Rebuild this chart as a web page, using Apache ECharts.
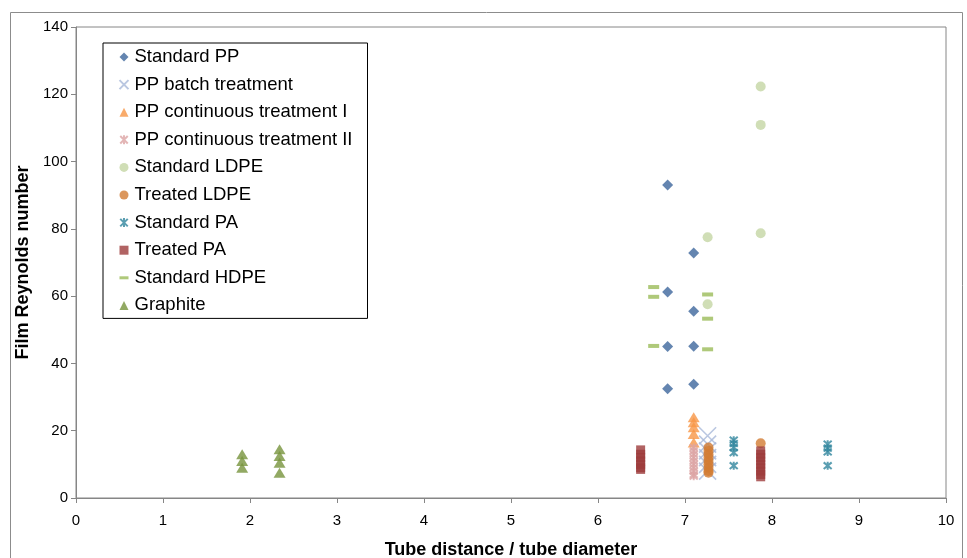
<!DOCTYPE html>
<html>
<head>
<meta charset="utf-8">
<script src="https://cdn.jsdelivr.net/npm/echarts@6/dist/echarts.min.js"></script>
<style>
  html, body { margin: 0; padding: 0; background: #fff; }
  #chart { width: 967px; height: 558px; }
</style>
</head>
<body>
<div id="chart"></div>
<script>
// Film Reynolds number against tube pitch ratio, one list of [x, y] per material
const standardPP = [[6.8, 93], [6.8, 61.2], [6.8, 45], [6.8, 32.5],
                    [7.1, 72.8], [7.1, 55.5], [7.1, 45.1], [7.1, 33.8]];
const ppBatch = [[7.26, 18.5], [7.26, 16], [7.26, 14], [7.26, 12], [7.26, 10], [7.26, 8]];
const ppContinuousI = [[7.1, 24], [7.1, 22.5], [7.1, 21], [7.1, 19], [7.1, 16.5]];
const ppContinuousII = [[7.1, 15], [7.1, 14], [7.1, 13], [7.1, 12], [7.1, 11],
                        [7.1, 10], [7.1, 9], [7.1, 8], [7.1, 7], [7.1, 6.5]];
const standardLDPE = [[7.26, 77.5], [7.26, 57.6], [7.87, 122.3], [7.87, 110.9], [7.87, 78.7]];
const treatedLDPE = [[7.27, 15], [7.27, 14], [7.27, 13], [7.27, 12], [7.27, 11],
                     [7.27, 10], [7.27, 9], [7.27, 8], [7.27, 7.5], [7.87, 16.3]];
const standardPA = [[7.56, 17.2], [7.56, 16.2], [7.56, 15], [7.56, 13.5], [7.56, 9.6],
                    [8.64, 16], [8.64, 14.8], [8.64, 13.7], [8.64, 9.6]];
const treatedPA = [[6.49, 14.3], [6.49, 13], [6.49, 12], [6.49, 11], [6.49, 10], [6.49, 9], [6.49, 8.5],
                   [7.87, 14], [7.87, 13], [7.87, 12], [7.87, 11], [7.87, 10], [7.87, 9],
                   [7.87, 8], [7.87, 7], [7.87, 6.3]];
const standardHDPE = [[6.64, 62.7], [6.64, 59.8], [6.64, 45.2], [7.26, 60.5], [7.26, 53.3], [7.26, 44.2]];
const graphite = [[1.91, 13], [1.91, 11], [1.91, 9],
                  [2.34, 14.5], [2.34, 12.5], [2.34, 10.5], [2.34, 7.5]];

const seriesNames = ['Standard PP', 'PP batch treatment', 'PP continuous treatment I',
  'PP continuous treatment II', 'Standard LDPE', 'Treated LDPE', 'Standard PA',
  'Treated PA', 'Standard HDPE', 'Graphite'];
const seriesData = [standardPP, ppBatch, ppContinuousI, ppContinuousII, standardLDPE,
  treatedLDPE, standardPA, treatedPA, standardHDPE, graphite];

const xTicks = { min: 0, max: 10, interval: 1 };
const yTicks = { min: 0, max: 140, interval: 20 };

const crossPath = 'path://M0,0L10,10M10,0L0,10';
const starPath = 'path://M0,0L10,10M10,0L0,10M5,-1L5,11';
const dashPath = 'path://M0,0h12v4h-12z';

const markerStyles = [
  { symbol: 'diamond', symbolSize: 11, itemStyle: { color: '#3D679C' } },
  { symbol: crossPath, symbolSize: 17, itemStyle: { color: 'transparent', borderColor: '#A9B9D9', borderWidth: 1.6 } },
  { symbol: 'triangle', symbolSize: [12, 10], itemStyle: { color: '#F79646' } },
  { symbol: starPath, symbolSize: 8, itemStyle: { color: 'transparent', borderColor: '#DCA4A4', borderWidth: 2 } },
  { symbol: 'circle', symbolSize: 10, itemStyle: { color: '#C4D6A4' } },
  { symbol: 'circle', symbolSize: 10, itemStyle: { color: '#D27C33' } },
  { symbol: starPath, symbolSize: 8, itemStyle: { color: 'transparent', borderColor: '#31869E', borderWidth: 2 } },
  { symbol: 'rect', symbolSize: 9, itemStyle: { color: '#9E3C3C' } },
  { symbol: dashPath, symbolSize: [11, 4], itemStyle: { color: '#9BBB59' } },
  { symbol: 'triangle', symbolSize: [12, 10], itemStyle: { color: '#77933C' } }
];

const legendIcons = ['diamond', crossPath, 'triangle', starPath, 'circle', 'circle',
  starPath, 'rect', dashPath, 'triangle'];

const series = seriesNames.map((name, i) => Object.assign({
  name: name,
  type: 'scatter',
  data: seriesData[i],
  emphasis: { disabled: true }
}, markerStyles[i]));

const axisColor = '#868686';
const fontFamily = 'Liberation Sans, Arial, sans-serif';

const chart = echarts.init(document.getElementById('chart'), null, { renderer: 'canvas' });
chart.setOption({
  animation: false,
  backgroundColor: '#fff',
  graphic: [{
    type: 'rect',
    shape: { x: 10.5, y: 12.5, width: 952, height: 560 },
    style: { fill: 'none', stroke: '#8C8C8C', lineWidth: 1 },
    silent: true
  }],
  grid: {
    left: 76, right: 21, top: 27, bottom: 60,
    containLabel: false,
    outerBoundsMode: 'none',
    show: true, borderColor: axisColor, borderWidth: 1, backgroundColor: 'transparent'
  },
  legend: {
    orient: 'vertical',
    left: 103, top: 43,
    data: seriesNames.map((n, i) => ({ name: n, icon: legendIcons[i] })),
    itemWidth: 9, itemHeight: 9,
    itemGap: 7.6,
    padding: [4, 15, 3, 15.5],
    borderColor: '#000', borderWidth: 1,
    backgroundColor: '#fff',
    selectedMode: false,
    textStyle: { fontFamily: fontFamily, fontSize: 18.5, color: '#000', lineHeight: 20, padding: [0, 0, 0, 1] }
  },
  xAxis: {
    type: 'value',
    min: xTicks.min, max: xTicks.max, interval: xTicks.interval,
    name: 'Tube distance / tube diameter',
    nameLocation: 'middle', nameGap: 43,
    nameTextStyle: { fontFamily: fontFamily, fontWeight: 'bold', fontSize: 18, color: '#000' },
    axisLine: { show: true, lineStyle: { color: axisColor } },
    axisTick: { show: true, length: 5, lineStyle: { color: axisColor } },
    axisLabel: { fontFamily: fontFamily, fontSize: 15, color: '#000', margin: 15 },
    splitLine: { show: false }
  },
  yAxis: {
    type: 'value',
    min: yTicks.min, max: yTicks.max, interval: yTicks.interval,
    name: 'Film Reynolds number',
    nameLocation: 'middle', nameGap: 41,
    nameTextStyle: { fontFamily: fontFamily, fontWeight: 'bold', fontSize: 18, color: '#000' },
    axisLine: { show: true, lineStyle: { color: axisColor } },
    axisTick: { show: true, length: 5, lineStyle: { color: axisColor } },
    axisLabel: { fontFamily: fontFamily, fontSize: 15, color: '#000', margin: 8 },
    splitLine: { show: false }
  },
  series: series
});
</script>
</body>
</html>
